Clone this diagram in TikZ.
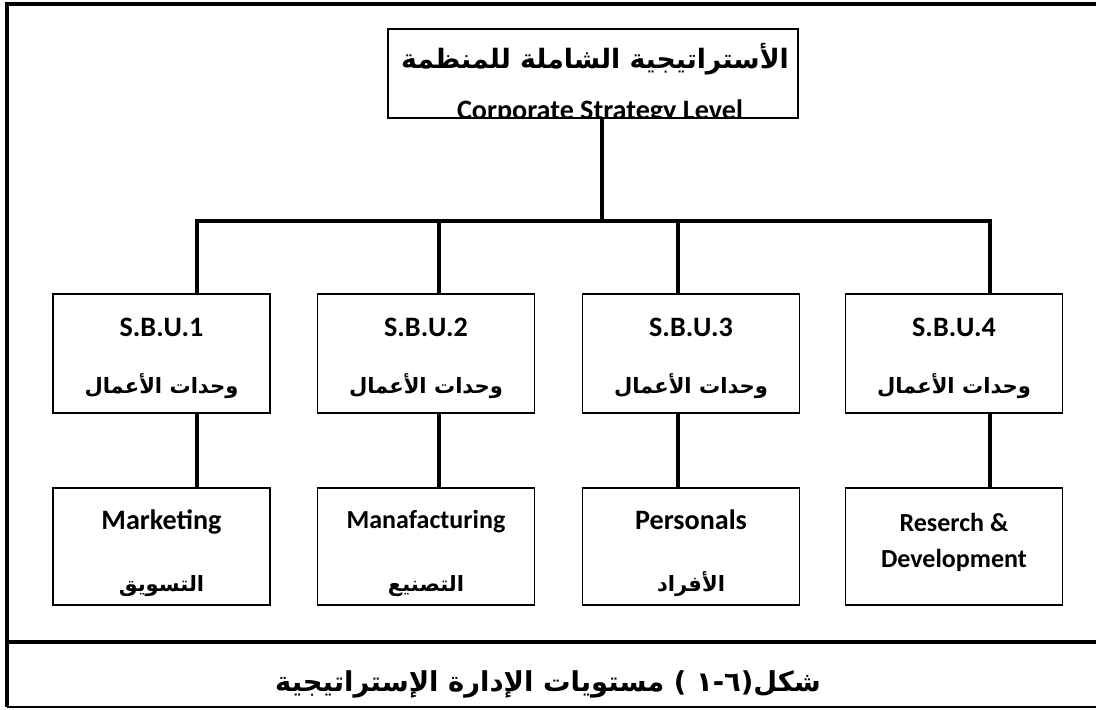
\documentclass[tikz,border=0pt]{standalone}
\usepackage{fontspec}
\setmainfont{Carlito}
\newfontfamily\arabicfont[Script=Arabic]{DejaVu Sans}
\TeXXeTstate=1
\usetikzlibrary{positioning}
\definecolor{orgink}{HTML}{000000}
\tikzset{
  org frame/.style={draw=orgink, line width=2.2pt},
  org rule/.style={draw=orgink, line width=1pt},
  org box/.style={draw=orgink, line width=1.1pt, fill=white, inner sep=0pt,
    minimum width=5.425cm},
  org link/.style={draw=orgink, line width=3.4pt, line join=miter},
  org en/.style={font=\bfseries\fontsize{20}{24}\selectfont, text=orgink,
    inner sep=0pt, anchor=base},
  org ar/.style={font=\arabicfont\bfseries\fontsize{15}{19}\selectfont, text=orgink,
    inner sep=0pt, anchor=base},
  org title/.style={org ar, font=\arabicfont\bfseries\fontsize{19}{23}\selectfont}
}

\begin{document}
\begin{tikzpicture}[x=0.025cm, y=-0.025cm]
  \useasboundingbox (0,0) rectangle (1096,709);
  \draw[org frame] (1096,4) -- (7,4) -- (7,707);
  \draw[org rule] (7,707) -- (1096,707);
  \draw[org frame] (7,642) -- (1096,642);

  \node[org box, minimum width=10.25cm, minimum height=2.225cm] (corp) at (593,73.5) {};
  \node[org title] (corpar) at (595,69) {\beginR الأستراتيجية الشاملة للمنظمة\endR};
  \begin{scope}
    \clip (corp.south west) rectangle (corp.north east);
    \node[org en] (corpen) at (600,120) {Corporate Strategy Level};
  \end{scope}

  \node[org box, minimum height=2.975cm] (sbu1) at (161.5,353.5) {};
  \node[org box, minimum height=2.975cm] (sbu2) at (426,353.5) {};
  \node[org box, minimum height=2.975cm] (sbu3) at (691,353.5) {};
  \node[org box, minimum height=2.975cm] (sbu4) at (954,353.5) {};
  \foreach \i/\cx in {1/161.5,2/426,3/691,4/954} {
    \node[org en] (sbut\i) at (\cx,336) {S.B.U.\i};
    \node[org ar] (sbuar\i) at (\cx,393) {\beginR وحدات الأعمال\endR};
  }

  \node[org box, minimum height=2.925cm] (mkt) at (161.5,546.5) {};
  \node[org box, minimum height=2.925cm] (mfg) at (426,546.5) {};
  \node[org box, minimum height=2.925cm] (per) at (691,546.5) {};
  \node[org box, minimum height=2.925cm] (rnd) at (954,546.5) {};
  \node[org en] (mkten) at (161.5,529) {Marketing};
  \node[org ar] (mktar) at (161.5,591) {\beginR التسويق\endR};
  \node[org en, font=\bfseries\fontsize{18.5}{22}\selectfont] (mfgen) at (426,528) {Manafacturing};
  \node[org ar] (mfgar) at (426,591) {\beginR التصنيع\endR};
  \node[org en] (peren) at (691,529) {Personals};
  \node[org ar] (perar) at (691,591) {\beginR الأفراد\endR};
  \node[org en, font=\bfseries\fontsize{18.5}{22}\selectfont] (rnda) at (954,531) {Reserch \&};
  \node[org en, font=\bfseries\fontsize{18.5}{22}\selectfont] (rndb) at (954,567) {Development};

  \coordinate (hub) at (602,221);
  \coordinate (j1) at (197,221);
  \coordinate (j2) at (439,221);
  \coordinate (j3) at (678,221);
  \coordinate (j4) at (990,221);
  \draw[org link] (corp.south -| hub) -- (hub);
  \draw[org link] (sbu1.north -| j1) -- (j1) -- (j4) -- (sbu4.north -| j4);
  \draw[org link] (j2) -- (sbu2.north -| j2);
  \draw[org link] (j3) -- (sbu3.north -| j3);
  \draw[org link] (sbu1.south -| j1) -- (mkt.north -| j1);
  \draw[org link] (sbu2.south -| j2) -- (mfg.north -| j2);
  \draw[org link] (sbu3.south -| j3) -- (per.north -| j3);
  \draw[org link] (sbu4.south -| j4) -- (rnd.north -| j4);

  \node[org title, font=\arabicfont\bfseries\fontsize{19.5}{23}\selectfont] (caption) at (548,691) {\beginR شكل(٦-١ ) مستويات الإدارة الإستراتيجية\endR};
\end{tikzpicture}
\end{document}
